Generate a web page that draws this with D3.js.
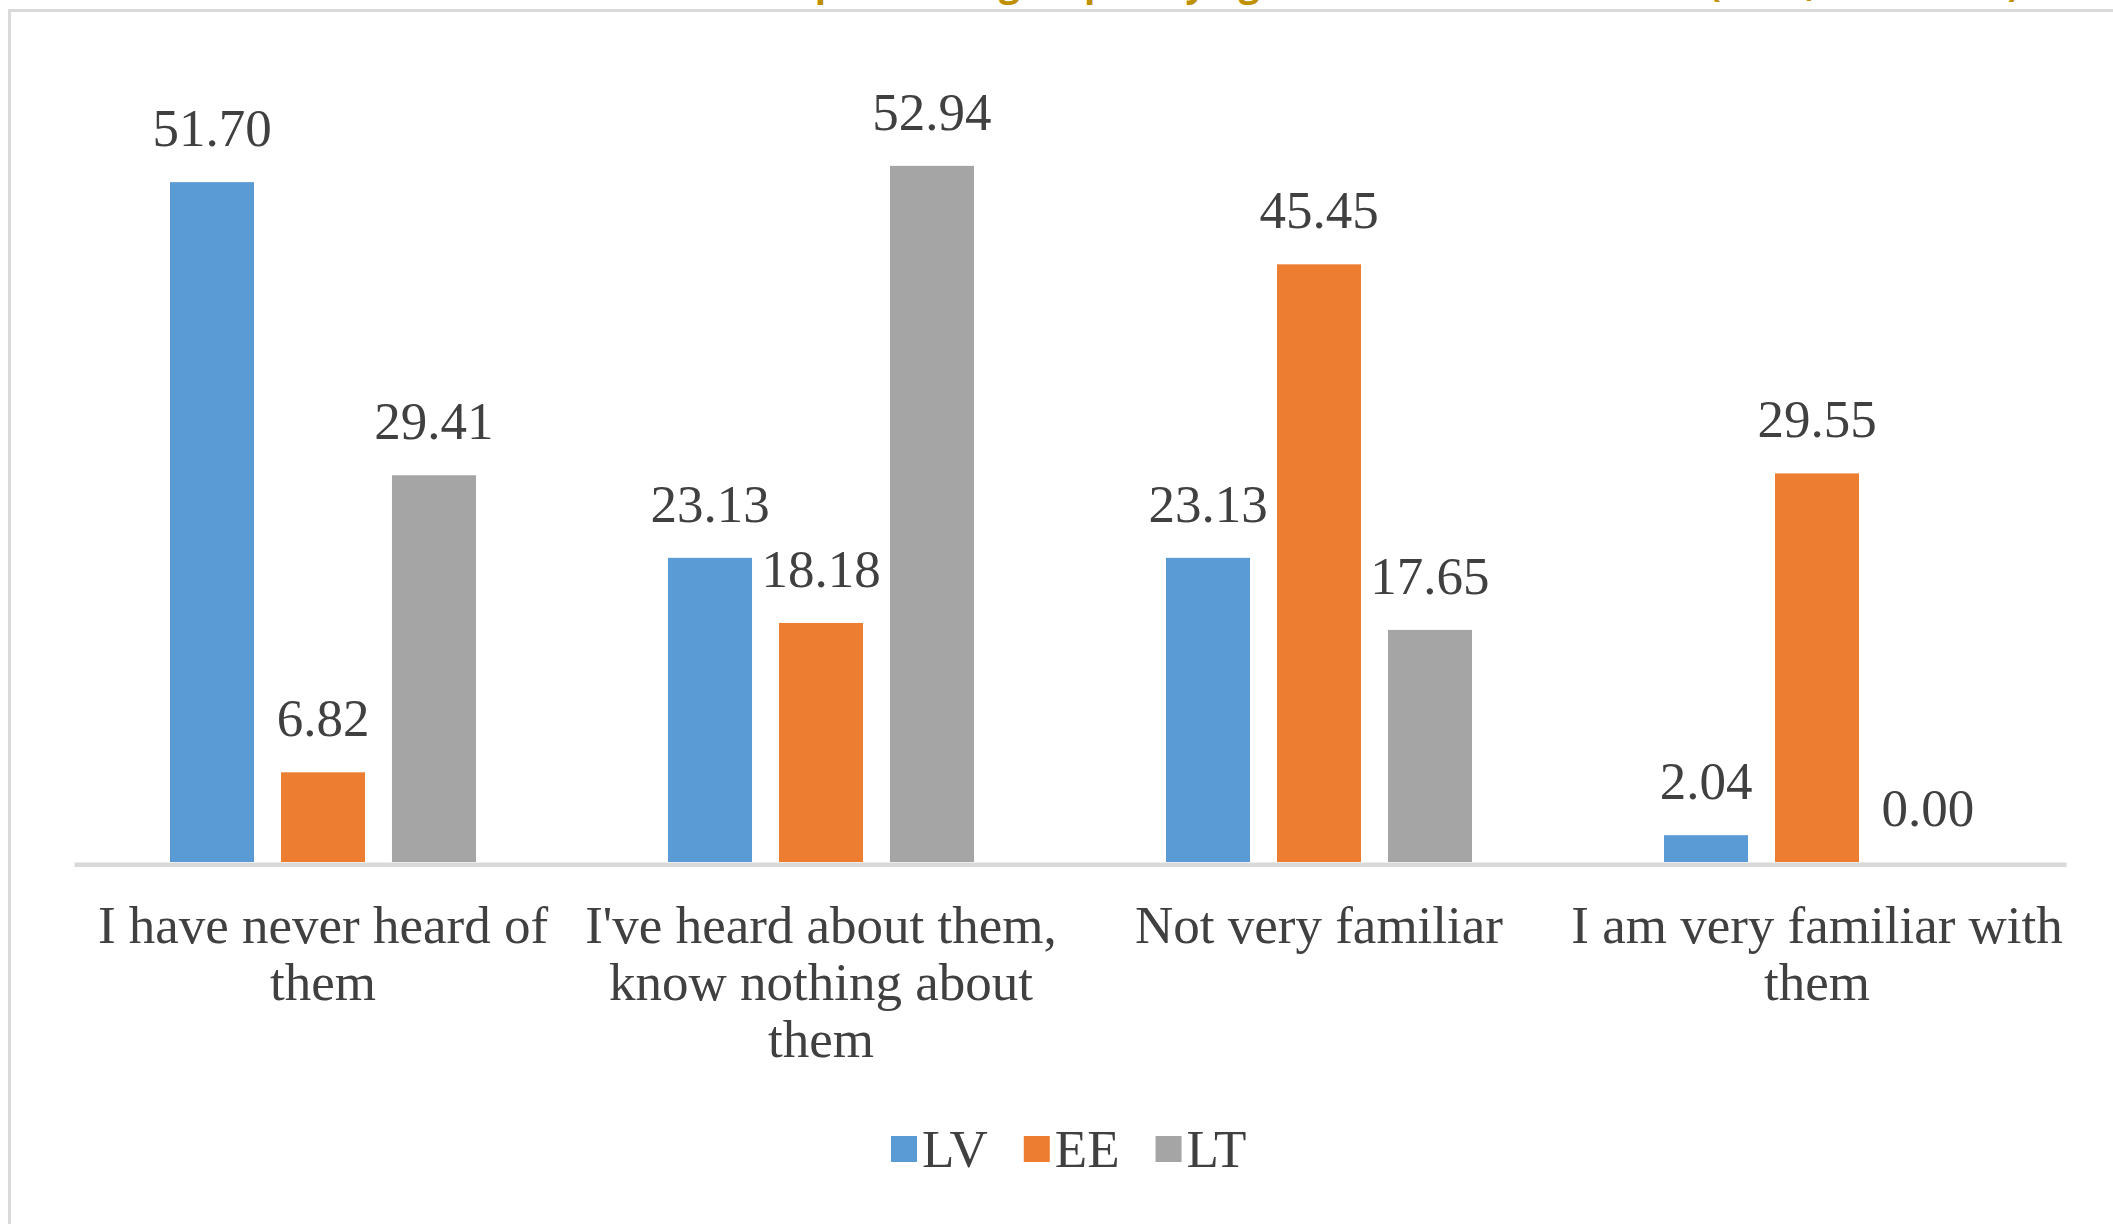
<!DOCTYPE html>
<html>
<head>
<meta charset="utf-8">
<script src="https://cdn.jsdelivr.net/npm/d3@7"></script>
<style>
  body { margin: 0; background: #fff; overflow: hidden; }
  text { font-family: "Liberation Serif", "Times New Roman", serif; fill: #404040; }
</style>
</head>
<body>
<svg></svg>
<script>
var width = 2113;
var height = 1224;

// data
var categories = ["I have never heard of them", "I've heard about them, know nothing about them", "Not very familiar", "I am very familiar with them"];
var series = ["LV", "EE", "LT"];
var LV = [51.70, 23.13, 23.13, 2.04];
var EE = [6.82, 18.18, 45.45, 29.55];
var LT = [29.41, 52.94, 17.65, 0.00];
var titleText = "Awareness of respondents grouped by age and location in Baltics (2018, all results)";

var values = [LV, EE, LT];
var color = ['#5B9BD5', '#ED7D31', '#A5A5A5'];

var svg = d3.select("svg")
            .attr('width', width)
            .attr('height', height);

// chart frame, runs off the right and bottom edge
svg.append("rect")
   .attr("x", 9.5).attr("y", 10.5)
   .attr("width", width + 20).attr("height", height + 20)
   .attr("fill", "none")
   .attr("stroke", "#d9d9d9")
   .attr("stroke-width", 3);

// title mostly cut off at the top, only descenders show
svg.append("text")
   .attr("x", 500).attr("y", -4)
   .style("font-family", "'Open Sans', sans-serif")
   .style("font-weight", "bold")
   .style("font-size", "37px")
   .style("fill", "#BF9000")
   .text(titleText);

var x0 = d3.scaleBand().domain(categories).range([74, 2066]).padding(0);
var x1 = d3.scaleBand().domain(series).range([0, x0.bandwidth()])
           .paddingInner(0.243).paddingOuter(0.865);
var y = d3.scaleLinear().domain([0, 60]).range([862, 862 - 60 * 13.15]);

var rows = [];
categories.forEach(function(c, i) {
  series.forEach(function(s, j) {
    rows.push({cat: c, ser: s, idx: j, v: values[j][i]});
  });
});

var bars = svg.append("g");
bars.selectAll("rect").data(rows).enter().append("rect")
    .attr("x", function(d) { return x0(d.cat) + x1(d.ser); })
    .attr("y", function(d) { return y(d.v); })
    .attr("width", x1.bandwidth())
    .attr("height", function(d) { return y(0) - y(d.v); })
    .attr("fill", function(d) { return color[d.idx]; });

bars.selectAll("text").data(rows).enter().append("text")
    .attr("x", function(d) { return x0(d.cat) + x1(d.ser) + x1.bandwidth() / 2; })
    .attr("y", function(d) { return y(d.v) - 36; })
    .attr("text-anchor", "middle")
    .style("font-size", "53px")
    .text(function(d) { return d.v.toFixed(2); });

// category axis
var axis = svg.append("g").attr("transform", "translate(0," + y(0) + ")")
    .call(d3.axisBottom(x0).tickSize(0).tickPadding(0));
axis.select(".domain").attr("stroke", "#d9d9d9").attr("stroke-width", 4.5)
    .attr("transform", "translate(0,2.3)");
axis.selectAll(".tick text").remove();
axis.selectAll(".tick").append("text")
    .attr("text-anchor", "middle")
    .style("font-size", "53px")
    .each(function(d) { wrap(d3.select(this), d, x0.bandwidth()); });

function wrap(t, str, w) {
  var words = str.split(" "), line = [], n = 0;
  var ts = t.append("tspan").attr("x", 0).attr("y", 81);
  words.forEach(function(wd) {
    line.push(wd);
    ts.text(line.join(" "));
    if (ts.node().getComputedTextLength() > w && line.length > 1) {
      line.pop();
      ts.text(line.join(" "));
      line = [wd];
      n++;
      ts = t.append("tspan").attr("x", 0).attr("y", 81 + n * 57).text(wd);
    }
  });
}

// legend
var lx = 891;
var legend = svg.append("g");
series.forEach(function(s, j) {
  legend.append("rect").attr("x", lx).attr("y", 1136)
        .attr("width", 26).attr("height", 26).attr("fill", color[j]);
  var t = legend.append("text").attr("x", lx + 31).attr("y", 1167)
        .style("font-size", "53px").text(s);
  lx = lx + 31 + t.node().getComputedTextLength() + 36;
});
</script>
</body>
</html>
